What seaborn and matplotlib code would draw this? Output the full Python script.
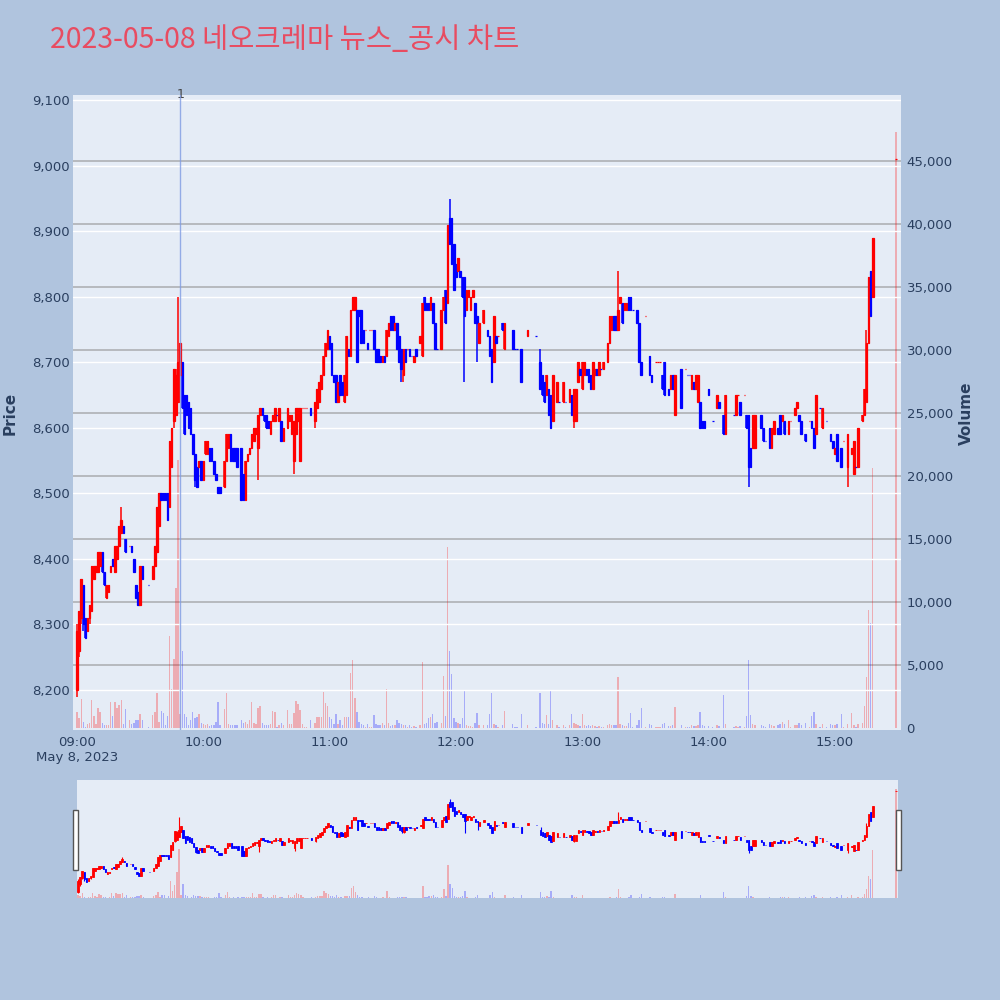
import numpy as np
import pandas as pd
import matplotlib
matplotlib.use("Agg")
import matplotlib.pyplot as plt
import seaborn as sns
from matplotlib.patches import Rectangle
from matplotlib.ticker import FuncFormatter, FixedLocator

# ---------------- data ----------------
title_text = "2023-05-08 네오크레마 뉴스_공시 차트"
date_text = "May 8, 2023"
hour_minutes = [0, 60, 120, 180, 240, 300, 360]
hour_labels = ["09:00", "10:00", "11:00", "12:00", "13:00", "14:00", "15:00"]
price_ticks = [8200, 8300, 8400, 8500, 8600, 8700, 8800, 8900, 9000, 9100]
volume_ticks = [0, 5000, 10000, 15000, 20000, 25000, 30000, 35000, 40000, 45000]
news_minute = 49
news_label = "1"

# minutes after 09:00
minute = [
    0, 1, 2, 3, 4, 5, 6, 7, 8, 9,
    10, 11, 12, 13, 14, 15, 16, 17, 18, 19,
    20, 21, 22, 23, 25, 26, 27, 28, 29, 30,
    31, 34, 36, 37, 38, 39, 40, 41, 42, 43,
    44, 45, 46, 47, 48, 49, 50, 51, 52, 53,
    54, 55, 56, 57, 58, 59, 60, 61, 62, 63,
    64, 65, 66, 67, 68, 70, 71, 72, 73, 74,
    75, 76, 78, 79, 80, 81, 82, 83, 84, 85,
    86, 87, 88, 89, 90, 91, 92, 93, 94, 95,
    96, 97, 98, 100, 101, 102, 103, 104, 105, 106,
    107, 108, 109, 111, 113, 114, 115, 116, 117, 118,
    119, 120, 121, 122, 123, 124, 125, 126, 127, 128,
    129, 130, 131, 132, 133, 134, 135, 136, 137, 138,
    139, 140, 141, 142, 143, 144, 145, 146, 147, 148,
    149, 150, 151, 152, 153, 154, 155, 156, 157, 158,
    159, 160, 161, 163, 164, 165, 166, 167, 168, 169,
    170, 171, 173, 174, 175, 176, 177, 178, 179, 180,
    181, 182, 183, 184, 185, 186, 187, 188, 189, 190,
    191, 193, 195, 196, 197, 198, 199, 200, 202, 203,
    207, 208, 209, 211, 214, 218, 220, 221, 222, 223,
    224, 225, 226, 228, 229, 231, 232, 234, 235, 236,
    237, 238, 239, 240, 241, 242, 243, 244, 245, 246,
    247, 248, 249, 250, 252, 253, 254, 255, 256, 257,
    258, 259, 260, 261, 262, 263, 264, 266, 267, 268,
    270, 272, 273, 275, 276, 277, 278, 279, 281, 282,
    283, 284, 287, 289, 290, 291, 292, 293, 294, 295,
    296, 297, 298, 300, 302, 304, 305, 307, 308, 312,
    313, 314, 315, 317, 318, 319, 320, 321, 322, 325,
    326, 327, 329, 330, 331, 333, 334, 335, 336, 338,
    339, 341, 342, 343, 344, 346, 348, 349, 350, 351,
    353, 354, 356, 358, 359, 360, 361, 363, 364, 366,
    368, 369, 370, 371, 373, 374, 375, 376, 377, 378,
    389,
]

open_ = [
    8200, 8260, 8310, 8360, 8310, 8290, 8310, 8320, 8370, 8380,
    8380, 8390, 8410, 8380, 8340, 8350, 8380, 8400, 8380, 8400,
    8420, 8440, 8450, 8430, 8420, 8420, 8400, 8360, 8350, 8330,
    8390, 8360, 8370, 8390, 8410, 8450, 8500, 8500, 8500, 8500,
    8480, 8540, 8610, 8620, 8640, 8680, 8700, 8650, 8650, 8640,
    8630, 8590, 8560, 8540, 8540, 8550, 8520, 8560, 8560, 8570,
    8570, 8550, 8530, 8510, 8510, 8510, 8550, 8570, 8590, 8570,
    8570, 8570, 8570, 8530, 8490, 8550, 8560, 8570, 8580, 8590,
    8570, 8620, 8630, 8620, 8620, 8610, 8590, 8610, 8610, 8620,
    8610, 8610, 8580, 8600, 8610, 8590, 8550, 8590, 8610, 8550,
    8630, 8630, 8630, 8630, 8610, 8630, 8640, 8660, 8680, 8710,
    8720, 8740, 8730, 8680, 8680, 8640, 8680, 8670, 8640, 8650,
    8720, 8710, 8780, 8780, 8780, 8780, 8780, 8750, 8750, 8730,
    8750, 8750, 8750, 8720, 8720, 8710, 8700, 8710, 8710, 8740,
    8770, 8770, 8750, 8760, 8740, 8720, 8680, 8720, 8720, 8720,
    8710, 8700, 8720, 8730, 8710, 8800, 8790, 8790, 8780, 8790,
    8760, 8720, 8720, 8780, 8810, 8790, 8920, 8920, 8880, 8850,
    8840, 8840, 8830, 8830, 8780, 8800, 8780, 8800, 8790, 8770,
    8730, 8760, 8750, 8740, 8720, 8700, 8740, 8740, 8760, 8720,
    8750, 8720, 8720, 8720, 8740, 8740, 8700, 8680, 8670, 8650,
    8660, 8650, 8610, 8640, 8640, 8640, 8640, 8640, 8650, 8610,
    8610, 8670, 8690, 8660, 8680, 8690, 8690, 8680, 8660, 8680,
    8690, 8680, 8690, 8690, 8700, 8730, 8750, 8770, 8770, 8750,
    8790, 8790, 8780, 8780, 8800, 8800, 8780, 8780, 8760, 8700,
    8770, 8710, 8680, 8700, 8700, 8700, 8680, 8700, 8660, 8660,
    8680, 8620, 8690, 8690, 8680, 8680, 8660, 8670, 8660, 8640,
    8640, 8610, 8610, 8660, 8610, 8630, 8640, 8620, 8590, 8620,
    8620, 8650, 8640, 8650, 8620, 8620, 8570, 8570, 8570, 8620,
    8600, 8580, 8600, 8570, 8590, 8600, 8620, 8610, 8610, 8590,
    8610, 8620, 8630, 8620, 8610, 8590, 8610, 8610, 8600, 8590,
    8630, 8600, 8610, 8590, 8580, 8560, 8590, 8570, 8580, 8540,
    8560, 8530, 8540, 8540, 8610, 8620, 8640, 8730, 8840, 8800,
    9010,
]

high = [
    8300, 8320, 8370, 8360, 8310, 8310, 8330, 8390, 8390, 8390,
    8410, 8410, 8410, 8380, 8360, 8360, 8390, 8400, 8420, 8420,
    8450, 8480, 8450, 8430, 8420, 8420, 8400, 8360, 8350, 8390,
    8390, 8360, 8390, 8420, 8480, 8500, 8500, 8500, 8500, 8500,
    8580, 8600, 8690, 8690, 8800, 8730, 8700, 8650, 8650, 8640,
    8630, 8590, 8560, 8540, 8550, 8550, 8550, 8580, 8580, 8570,
    8570, 8550, 8530, 8510, 8510, 8550, 8590, 8590, 8590, 8570,
    8570, 8570, 8570, 8530, 8550, 8560, 8570, 8590, 8600, 8600,
    8620, 8630, 8630, 8620, 8620, 8610, 8610, 8620, 8630, 8620,
    8630, 8610, 8600, 8630, 8620, 8620, 8610, 8630, 8630, 8630,
    8630, 8630, 8630, 8630, 8640, 8660, 8670, 8680, 8710, 8730,
    8750, 8740, 8730, 8680, 8680, 8670, 8680, 8670, 8680, 8740,
    8720, 8780, 8800, 8800, 8780, 8780, 8780, 8750, 8750, 8730,
    8750, 8750, 8750, 8720, 8720, 8710, 8710, 8710, 8750, 8760,
    8770, 8770, 8760, 8760, 8740, 8720, 8720, 8720, 8720, 8720,
    8710, 8710, 8720, 8740, 8790, 8800, 8790, 8790, 8800, 8790,
    8760, 8720, 8780, 8800, 8810, 8910, 8950, 8920, 8880, 8850,
    8860, 8840, 8830, 8830, 8810, 8810, 8800, 8810, 8790, 8770,
    8760, 8780, 8750, 8740, 8720, 8770, 8740, 8740, 8760, 8760,
    8750, 8720, 8720, 8720, 8750, 8740, 8720, 8680, 8670, 8680,
    8660, 8650, 8680, 8670, 8640, 8670, 8640, 8660, 8650, 8660,
    8660, 8700, 8690, 8700, 8700, 8690, 8690, 8680, 8700, 8690,
    8690, 8700, 8690, 8700, 8730, 8770, 8770, 8770, 8770, 8840,
    8800, 8790, 8790, 8790, 8800, 8800, 8780, 8780, 8760, 8700,
    8770, 8710, 8680, 8700, 8700, 8700, 8680, 8700, 8660, 8680,
    8680, 8680, 8690, 8690, 8680, 8680, 8680, 8670, 8680, 8680,
    8640, 8610, 8610, 8660, 8610, 8650, 8640, 8620, 8650, 8620,
    8650, 8650, 8640, 8650, 8620, 8620, 8570, 8620, 8620, 8620,
    8600, 8580, 8600, 8600, 8610, 8600, 8620, 8620, 8610, 8610,
    8610, 8630, 8640, 8620, 8610, 8590, 8610, 8610, 8600, 8650,
    8630, 8630, 8610, 8590, 8580, 8570, 8590, 8570, 8580, 8590,
    8570, 8580, 8540, 8600, 8620, 8660, 8750, 8830, 8840, 8890,
    9010,
]

low = [
    8190, 8250, 8300, 8290, 8280, 8290, 8300, 8320, 8370, 8380,
    8380, 8390, 8380, 8360, 8340, 8350, 8380, 8390, 8380, 8400,
    8420, 8440, 8440, 8410, 8420, 8410, 8380, 8340, 8330, 8330,
    8370, 8360, 8370, 8390, 8410, 8450, 8490, 8490, 8490, 8460,
    8480, 8540, 8600, 8620, 8640, 8680, 8630, 8590, 8620, 8600,
    8590, 8560, 8510, 8510, 8540, 8520, 8520, 8560, 8560, 8550,
    8550, 8530, 8520, 8500, 8500, 8510, 8550, 8570, 8550, 8550,
    8550, 8540, 8490, 8490, 8490, 8550, 8560, 8570, 8580, 8590,
    8520, 8620, 8620, 8610, 8600, 8600, 8590, 8610, 8610, 8620,
    8610, 8580, 8580, 8600, 8610, 8590, 8530, 8590, 8610, 8550,
    8630, 8630, 8630, 8620, 8600, 8630, 8640, 8660, 8680, 8710,
    8720, 8720, 8680, 8670, 8640, 8640, 8650, 8650, 8640, 8650,
    8710, 8710, 8780, 8780, 8700, 8770, 8730, 8730, 8750, 8720,
    8750, 8750, 8720, 8700, 8700, 8700, 8700, 8700, 8710, 8740,
    8750, 8750, 8750, 8720, 8700, 8670, 8670, 8700, 8720, 8710,
    8710, 8700, 8710, 8730, 8710, 8780, 8780, 8780, 8780, 8760,
    8720, 8720, 8720, 8780, 8760, 8790, 8880, 8850, 8810, 8830,
    8840, 8830, 8800, 8670, 8780, 8800, 8780, 8800, 8760, 8700,
    8730, 8760, 8740, 8710, 8670, 8700, 8730, 8740, 8750, 8720,
    8720, 8720, 8720, 8670, 8740, 8740, 8660, 8650, 8640, 8650,
    8620, 8600, 8610, 8640, 8640, 8640, 8640, 8640, 8620, 8600,
    8610, 8670, 8680, 8660, 8680, 8680, 8670, 8660, 8660, 8680,
    8680, 8680, 8690, 8690, 8700, 8730, 8750, 8750, 8750, 8750,
    8790, 8760, 8780, 8780, 8780, 8780, 8780, 8760, 8700, 8680,
    8770, 8680, 8670, 8700, 8700, 8700, 8660, 8650, 8650, 8660,
    8660, 8620, 8630, 8690, 8680, 8680, 8660, 8660, 8660, 8640,
    8600, 8600, 8600, 8650, 8610, 8630, 8630, 8590, 8590, 8620,
    8620, 8650, 8620, 8650, 8600, 8510, 8540, 8570, 8570, 8600,
    8580, 8580, 8570, 8570, 8590, 8590, 8590, 8610, 8590, 8590,
    8610, 8620, 8630, 8610, 8590, 8580, 8610, 8600, 8570, 8590,
    8630, 8600, 8610, 8580, 8570, 8560, 8550, 8540, 8580, 8510,
    8560, 8530, 8540, 8540, 8610, 8620, 8640, 8730, 8770, 8800,
    9010,
]

close = [
    8290, 8320, 8370, 8300, 8280, 8310, 8330, 8390, 8390, 8390,
    8410, 8410, 8380, 8360, 8360, 8360, 8390, 8390, 8420, 8420,
    8450, 8460, 8440, 8410, 8420, 8410, 8380, 8340, 8330, 8390,
    8370, 8360, 8390, 8420, 8480, 8500, 8490, 8490, 8490, 8460,
    8580, 8600, 8690, 8680, 8700, 8730, 8630, 8590, 8620, 8600,
    8590, 8560, 8520, 8510, 8550, 8520, 8550, 8580, 8580, 8550,
    8550, 8530, 8520, 8500, 8500, 8550, 8590, 8590, 8550, 8550,
    8550, 8540, 8490, 8490, 8550, 8560, 8570, 8590, 8600, 8600,
    8620, 8630, 8620, 8610, 8600, 8600, 8610, 8620, 8630, 8620,
    8630, 8580, 8600, 8630, 8620, 8620, 8610, 8630, 8630, 8630,
    8630, 8630, 8630, 8620, 8640, 8660, 8670, 8680, 8710, 8730,
    8750, 8720, 8680, 8670, 8640, 8670, 8650, 8650, 8680, 8740,
    8710, 8780, 8800, 8800, 8700, 8770, 8730, 8730, 8750, 8720,
    8750, 8750, 8720, 8700, 8700, 8700, 8710, 8700, 8750, 8760,
    8750, 8750, 8760, 8720, 8700, 8690, 8720, 8700, 8720, 8710,
    8710, 8710, 8710, 8740, 8790, 8780, 8780, 8780, 8800, 8760,
    8720, 8720, 8780, 8800, 8760, 8910, 8880, 8850, 8810, 8830,
    8860, 8830, 8800, 8770, 8810, 8810, 8800, 8810, 8760, 8760,
    8760, 8780, 8740, 8710, 8670, 8770, 8730, 8740, 8750, 8760,
    8720, 8720, 8720, 8670, 8750, 8740, 8660, 8650, 8640, 8680,
    8620, 8600, 8680, 8670, 8640, 8670, 8640, 8660, 8620, 8660,
    8660, 8700, 8680, 8700, 8700, 8680, 8670, 8660, 8700, 8690,
    8680, 8700, 8690, 8700, 8730, 8770, 8770, 8750, 8750, 8780,
    8800, 8760, 8790, 8790, 8780, 8780, 8780, 8760, 8700, 8680,
    8770, 8680, 8670, 8700, 8700, 8700, 8660, 8650, 8650, 8680,
    8660, 8680, 8630, 8690, 8680, 8680, 8680, 8660, 8680, 8680,
    8600, 8600, 8600, 8650, 8610, 8650, 8630, 8590, 8650, 8620,
    8650, 8650, 8620, 8650, 8600, 8540, 8540, 8620, 8620, 8600,
    8580, 8580, 8570, 8600, 8610, 8590, 8590, 8620, 8590, 8610,
    8610, 8630, 8640, 8610, 8590, 8580, 8610, 8600, 8570, 8650,
    8630, 8630, 8610, 8580, 8570, 8570, 8550, 8540, 8580, 8590,
    8570, 8580, 8540, 8600, 8620, 8660, 8730, 8830, 8770, 8890,
    9010,
]

volume = [
    1260, 760, 2310, 500, 100, 300, 400, 2240, 920, 300,
    1580, 1250, 430, 260, 200, 260, 2080, 920, 2080, 1580,
    1850, 2240, 300, 1490, 600, 300, 400, 660, 660, 1090,
    600, 100, 1030, 1300, 2750, 500, 1370, 1160, 200, 950,
    7300, 3070, 5450, 11100, 21300, 1150, 6130, 1130, 860, 200,
    630, 1300, 790, 870, 1080, 400, 300, 250, 300, 150,
    200, 250, 500, 2100, 250, 1500, 2800, 300, 200, 250,
    200, 250, 600, 400, 500, 300, 600, 2080, 400, 300,
    1580, 1750, 430, 200, 250, 200, 300, 1360, 1260, 100,
    250, 400, 200, 1420, 300, 300, 1200, 2180, 1920, 1420,
    300, 100, 100, 600, 400, 850, 850, 850, 2850, 2000,
    1750, 850, 700, 300, 1090, 300, 600, 200, 850, 900,
    850, 4400, 5400, 2420, 1260, 500, 300, 200, 100, 300,
    100, 100, 1000, 300, 200, 200, 400, 200, 3080, 400,
    150, 200, 200, 600, 400, 300, 250, 250, 100, 200,
    100, 150, 100, 200, 5230, 300, 400, 770, 900, 1090,
    430, 450, 430, 4100, 960, 14400, 6090, 4310, 770, 500,
    430, 320, 770, 2950, 240, 150, 150, 100, 370, 1220,
    200, 200, 200, 1090, 2750, 300, 200, 100, 200, 1320,
    300, 100, 100, 1090, 200, 100, 2750, 400, 300, 1000,
    300, 2900, 600, 200, 100, 200, 100, 200, 1090, 400,
    300, 200, 150, 1090, 200, 150, 200, 150, 200, 150,
    100, 150, 100, 100, 200, 300, 200, 200, 250, 4070,
    300, 200, 150, 150, 400, 1160, 100, 200, 600, 1590,
    100, 300, 200, 100, 100, 100, 300, 400, 150, 150,
    200, 1650, 200, 100, 100, 100, 200, 150, 150, 200,
    1260, 200, 150, 150, 100, 200, 150, 2580, 300, 100,
    150, 100, 150, 100, 930, 5400, 1000, 300, 200, 200,
    150, 100, 300, 200, 150, 200, 300, 500, 300, 600,
    100, 200, 200, 400, 200, 400, 100, 930, 1260, 300,
    100, 300, 100, 300, 200, 200, 300, 1090, 100, 300,
    1160, 200, 100, 300, 400, 1760, 4070, 9350, 8370, 20600,
    47300,
]

# ---------------- styling ----------------
BG = "#B0C4DE"
PLOT_BG = "#E5ECF6"
UP = "#FF0000"
DOWN = "#0000FF"
TXT = "#2A3F5F"

sns.set_style("white")
plt.rcParams["font.family"] = ["DejaVu Sans"]

df = pd.DataFrame({"minute": minute, "open": open_, "high": high,
                   "low": low, "close": close, "volume": volume})

# candle direction (plotly rule: flat candles compare with previous close)
dirs = []
prev_c, prev_dir = None, "up"
for o_, c_ in zip(df["open"], df["close"]):
    if c_ > o_:
        d = "up"
    elif c_ < o_:
        d = "down"
    else:
        if prev_c is not None and c_ != prev_c:
            d = "up" if c_ > prev_c else "down"
        else:
            d = prev_dir
    dirs.append(d)
    prev_c, prev_dir = c_, d
df["dir"] = dirs
colors = [UP if d == "up" else DOWN for d in dirs]
palette = {"up": UP, "down": DOWN}


def draw_candles(ax, lw_wick, lw_edge, width):
    ax.vlines(df["minute"], df["low"], df["high"], colors=colors,
              linewidth=lw_wick, zorder=3)
    bottoms = np.minimum(df["open"], df["close"])
    heights = np.abs(df["close"] - df["open"])
    ax.bar(df["minute"], heights, bottom=bottoms, width=width,
           color=colors, edgecolor=colors, linewidth=lw_edge, zorder=4)


def draw_volume(ax, width, alpha):
    sns.barplot(data=df, x="minute", y="volume", hue="dir", palette=palette,
                native_scale=True, dodge=False, errorbar=None, legend=False,
                width=width, saturation=1, alpha=alpha, linewidth=0, ax=ax)
    ax.set_xlabel("")
    ax.set_ylabel("")


fig = plt.figure(figsize=(10, 10), dpi=100, facecolor=BG)

# ---------------- main chart ----------------
ax = fig.add_axes([0.073, 0.270, 0.828, 0.635])
axv = ax.twinx()
axv.set_zorder(1)
ax.set_zorder(2)
ax.patch.set_visible(False)
axv.set_facecolor(PLOT_BG)
axv.patch.set_visible(True)

draw_volume(axv, 0.65, 0.27)
draw_candles(ax, 1.1, 0.9, 0.72)

xlim = (-1.9, 391.4)
ax.set_xlim(*xlim)
axv.set_xlim(*xlim)
ax.set_ylim(8139, 9108)
axv.set_ylim(-159, 50238)

# gridlines
for p in price_ticks:
    ax.axhline(p, color="white", linewidth=1.0, zorder=0.5)
for v in volume_ticks[1:]:
    axv.axhline(v, color="#A9ABAF", linewidth=1.1, zorder=0.5)

ax.yaxis.set_major_locator(FixedLocator(price_ticks))
axv.yaxis.set_major_locator(FixedLocator(volume_ticks))
fmt = FuncFormatter(lambda v, p: f"{int(v):,}")
ax.yaxis.set_major_formatter(fmt)
axv.yaxis.set_major_formatter(fmt)
ax.set_xticks(hour_minutes)
ax.set_xticklabels(hour_labels)
axv.tick_params(axis="x", bottom=False, labelbottom=False)
ax.tick_params(axis="both", length=0, labelsize=9.5, labelcolor=TXT)
ax.tick_params(axis="y", pad=2)
ax.tick_params(axis="x", pad=4)
axv.tick_params(axis="y", length=0, labelsize=9.5, labelcolor=TXT, pad=4)

for a in (ax, axv):
    for s in a.spines.values():
        s.set_visible(False)

ax.set_ylabel("")
axv.set_ylabel("")
fig.text(0.010, 1 - 413 / 1000, "Price", rotation=90, ha="center", va="center",
         fontsize=11, fontweight="bold", color=TXT)
fig.text(0.966, 1 - 413 / 1000, "Volume", rotation=90, ha="center", va="center",
         fontsize=11, fontweight="bold", color=TXT)

fig.text(0.077, 1 - 757 / 1000, date_text, ha="center", va="center",
         fontsize=9.5, color=TXT)

# news marker
ax.axvline(news_minute, color="#7F9BE3", linewidth=1.0, alpha=0.8, zorder=10)
ax.text(news_minute, 1.0, news_label, transform=ax.get_xaxis_transform(),
        ha="center", va="center", fontsize=9, color="#444444")

# title
fig.text(0.05, 0.96, title_text, ha="left", va="center", fontsize=20.5,
         color="#E84C61", family=["Noto Sans CJK KR", "DejaVu Sans"])

# ---------------- range slider ----------------
sl = fig.add_axes([0.077, 0.102, 0.821, 0.118])
slp = sl.twinx()
sl.set_zorder(1)
slp.set_zorder(2)
slp.patch.set_visible(False)
sl.set_facecolor(PLOT_BG)
draw_volume(sl, 0.65, 0.27)
draw_candles(slp, 0.8, 0.6, 0.72)
sl_xlim = (-0.5, 390.0)
sl.set_xlim(*sl_xlim)
slp.set_xlim(*sl_xlim)
sl.set_ylim(0, 51000)
slp.set_ylim(8150, 9100)
for a in (sl, slp):
    a.set_xticks([])
    a.set_yticks([])
    a.set_xlabel("")
    a.set_ylabel("")
    for s in a.spines.values():
        s.set_visible(False)

for hx in (73, 896):
    fig.patches.append(Rectangle((hx / 1000, 1 - 870 / 1000), 5 / 1000, 60 / 1000,
                                 transform=fig.transFigure, facecolor="white",
                                 edgecolor="#555555", linewidth=1.0, zorder=20))

fig.savefig("out.png", dpi=100, facecolor=BG)
